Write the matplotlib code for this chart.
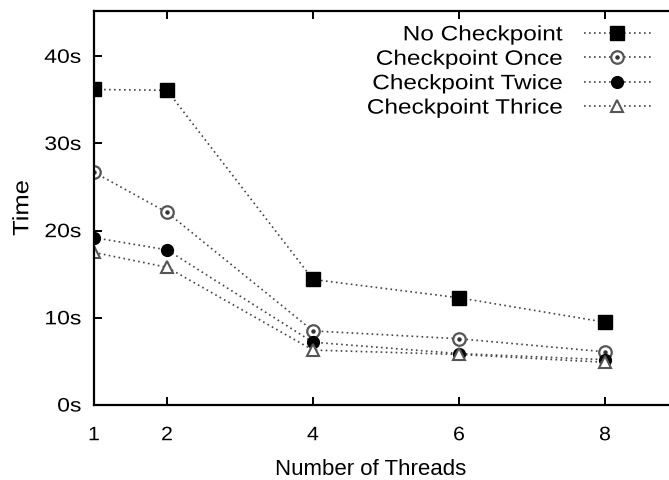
import matplotlib
matplotlib.use("Agg")
import matplotlib.pyplot as plt
from matplotlib.legend_handler import HandlerTuple
from matplotlib.patheffects import AbstractPathEffect
from matplotlib.transforms import Affine2D

threads = [1, 2, 4, 6, 8]
no_ckpt = [36.2, 36.1, 14.4, 12.3, 9.5]
ckpt_once = [26.7, 22.1, 8.5, 7.6, 6.1]
ckpt_twice = [19.2, 17.8, 7.2, 5.9, 5.2]
ckpt_thrice = [17.5, 15.8, 6.3, 5.8, 4.9]
labels = ["No Checkpoint", "Checkpoint Once", "Checkpoint Twice", "Checkpoint Thrice"]
xticks = [1, 2, 4, 6, 8]
yticks = [0, 10, 20, 30, 40]
ytick_labels = ["0s", "10s", "20s", "30s", "40s"]

plt.rcParams['font.family'] = ['Liberation Sans', 'DejaVu Sans']


class HStretch(AbstractPathEffect):
    """Stretch text along its baseline about a fraction of its width."""
    def __init__(self, sx, frac=0.5):
        super().__init__()
        self.sx = sx
        self.frac = frac

    def draw_path(self, renderer, gc, tpath, affine, rgbFace=None):
        ext = tpath.get_extents()
        c = ext.x0 + self.frac * (ext.x1 - ext.x0)
        pre = Affine2D().translate(-c, 0).scale(self.sx, 1).translate(c, 0)
        renderer.draw_path(gc, tpath, pre + affine, rgbFace)


W, H = 669, 481
fig = plt.figure(figsize=(W / 100, H / 100), dpi=100)
left, right, top, bottom = 94, 678, 12, 406
ax = fig.add_axes([left / W, (H - bottom) / H, (right - left) / W, (bottom - top) / H])

ls = dict(color="#444444", linestyle=(0, (1, 2)), linewidth=1.2)

h1, = ax.plot(threads, no_ckpt, marker="s", markersize=10.5, markerfacecolor="black",
              markeredgecolor="black", **ls)
h2a, = ax.plot(threads, ckpt_once, marker="o", markersize=9, markerfacecolor="white",
               markeredgecolor="#555555", markeredgewidth=1.6, **ls)
h2b, = ax.plot(threads, ckpt_once, linestyle="none", marker="o", markersize=2.2,
               markerfacecolor="#333333", markeredgecolor="#333333")
h3, = ax.plot(threads, ckpt_twice, marker="o", markersize=8.5, markerfacecolor="black",
              markeredgecolor="black", **ls)
h4, = ax.plot(threads, ckpt_thrice, marker="^", markersize=8.5, markerfacecolor="white",
              markeredgecolor="#555555", markeredgewidth=1.5, **ls)

ax.set_xlim(1, 9)
ax.set_ylim(0, 45.2)
ax.set_xticks(xticks)
ax.set_xticklabels([str(t) for t in xticks])
ax.set_yticks(yticks)
ax.set_yticklabels(ytick_labels)

for s in ["left", "bottom", "top", "right"]:
    ax.spines[s].set_linewidth(1.6)
ax.tick_params(direction="in", length=6, width=1.4, labelsize=14, top=True, right=True)
ax.tick_params(axis="x", pad=16)
ax.tick_params(axis="y", pad=9)

for t in ax.get_yticklabels():
    t.set_path_effects([HStretch(1.18, 1.0)])
for t in ax.get_xticklabels():
    t.set_path_effects([HStretch(1.1, 0.5)])

xl = ax.set_xlabel("Number of Threads", fontsize=16)
ax.xaxis.set_label_coords(0.473, -0.135)
yl = ax.set_ylabel("Time", fontsize=16)
ax.yaxis.set_label_coords(-0.104, 0.5)
yl.set_path_effects([HStretch(1.15, 0.5)])

leg = ax.legend([h1, (h2a, h2b), h3, h4], labels, handler_map={tuple: HandlerTuple(ndivide=1)},
                loc="upper right", bbox_to_anchor=(0.971, 0.99), markerfirst=False,
                frameon=False, fontsize=15, handlelength=3.2, handletextpad=1.0,
                labelspacing=0.26, borderpad=0.3, borderaxespad=0.2)
for t in leg.get_texts():
    t.set_path_effects([HStretch(1.17, 1.0)])

fig.savefig("out.png", dpi=100)
